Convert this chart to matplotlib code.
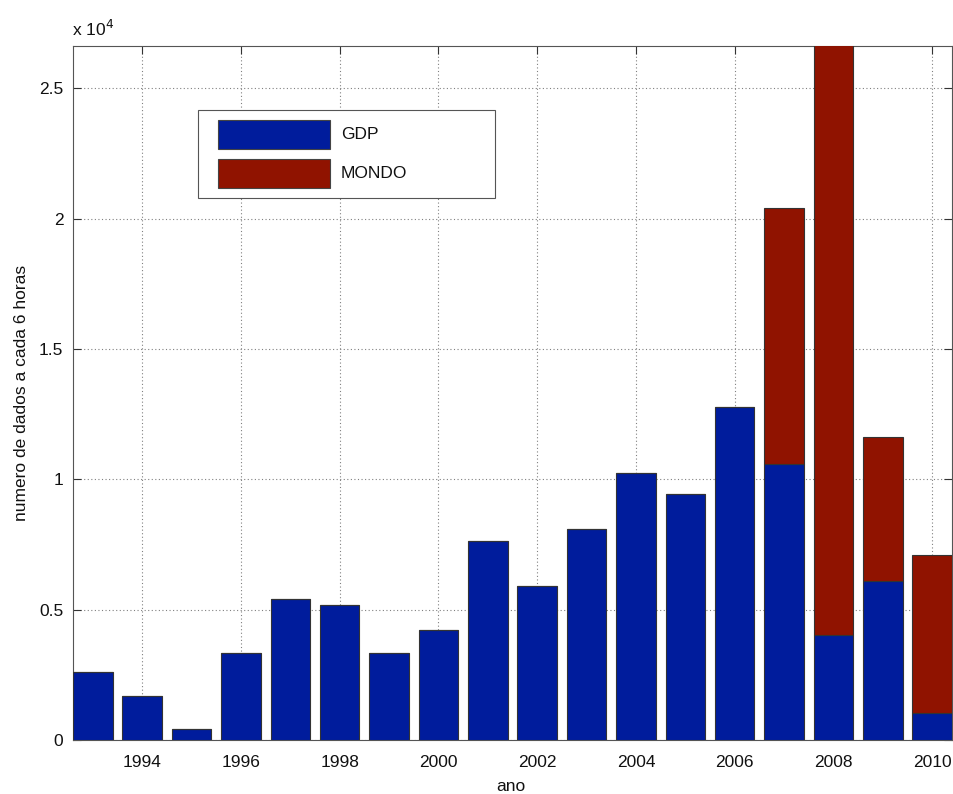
import matplotlib
matplotlib.use("Agg")
import matplotlib.pyplot as plt
from matplotlib.patches import Rectangle
import numpy as np

years = [1993, 1994, 1995, 1996, 1997, 1998, 1999, 2000, 2001, 2002,
         2003, 2004, 2005, 2006, 2007, 2008, 2009, 2010]
gdp = [2620, 1700, 410, 3330, 5420, 5170, 3330, 4210, 7620, 5900,
       8110, 10250, 9420, 12770, 10580, 4020, 6090, 1020]
mondo = [0, 0, 0, 0, 0, 0, 0, 0, 0, 0,
         0, 0, 0, 0, 9830, 22650, 5550, 6090]
series_names = ['GDP', 'MONDO']
ytick_vals = [0, 5000, 10000, 15000, 20000, 25000]
ytick_labels = ['0', '0.5', '1', '1.5', '2', '2.5']
xtick_vals = [1994, 1996, 1998, 2000, 2002, 2004, 2006, 2008, 2010]

plt.rcParams['font.family'] = ['Liberation Sans', 'DejaVu Sans']
FS = 12.5

W, H = 954, 794
fig = plt.figure(figsize=(W/100, H/100), dpi=100)
ax = fig.add_axes([73/W, 54/H, (952-73)/W, (740-46)/H])

blue = '#001c9c'
red = '#901300'
colors = [blue, red]
ax.bar(years, gdp, width=0.8, color=blue, edgecolor='#333333', linewidth=0.8,
       zorder=3)
ax.bar(years, mondo, width=0.8, bottom=gdp, color=red, edgecolor='#333333',
       linewidth=0.8, zorder=3)

ax.set_xlim(1992.6, 2010.4)
ax.set_ylim(0, 26620)
ax.set_xticks(xtick_vals)
ax.set_xticklabels([str(y) for y in xtick_vals])
ax.set_yticks(ytick_vals)
ax.set_yticklabels(ytick_labels)
ax.grid(True, linestyle=(0, (1, 2.2)), color='#808080', linewidth=0.8, zorder=0)
ax.set_axisbelow(True)
ax.tick_params(direction='in', top=True, right=True, length=6, width=0.8,
               colors='#333333', labelcolor='#111111', labelsize=FS, pad=7)
ax.tick_params(axis='x', pad=11)
for s in ax.spines.values():
    s.set_color('#555555')
    s.set_linewidth(0.8)

ax.set_xlabel('ano', fontsize=FS, color='#111111')
ax.xaxis.label.set_va('baseline')
ax.xaxis.set_label_coords((511-73)/879, (740-791)/694)
ax.set_ylabel('numero de dados a cada 6 horas', fontsize=FS, color='#111111')
ax.yaxis.label.set_va('baseline')
ax.yaxis.set_label_coords((26-73)/879, 0.5)

fig.text(72/W, 1-36.5/H, r'x 10$^{4}$', fontsize=FS, ha='left', va='baseline',
         color='#111111', math_fontfamily='dejavusans')

# legend drawn in figure pixel coordinates
def fr(x0, y0, x1, y1, **kw):
    return Rectangle((x0/W, 1-y1/H), (x1-x0)/W, (y1-y0)/H,
                     transform=fig.transFigure, **kw)

fig.patches.append(fr(198, 110, 495, 198, facecolor='white',
                      edgecolor='#555555', linewidth=0.8, zorder=5))
rows = [(120, 149), (159, 188)]
for (y0, y1), c, name in zip(rows, colors, series_names):
    fig.patches.append(fr(218, y0, 330, y1, facecolor=c, edgecolor='#444444',
                          linewidth=0.8, zorder=6))
    fig.text(341/W, 1-((y0+y1)/2)/H, name, fontsize=FS, ha='left',
             va='center', color='#111111', zorder=7)

fig.savefig('out.png', dpi=100)
